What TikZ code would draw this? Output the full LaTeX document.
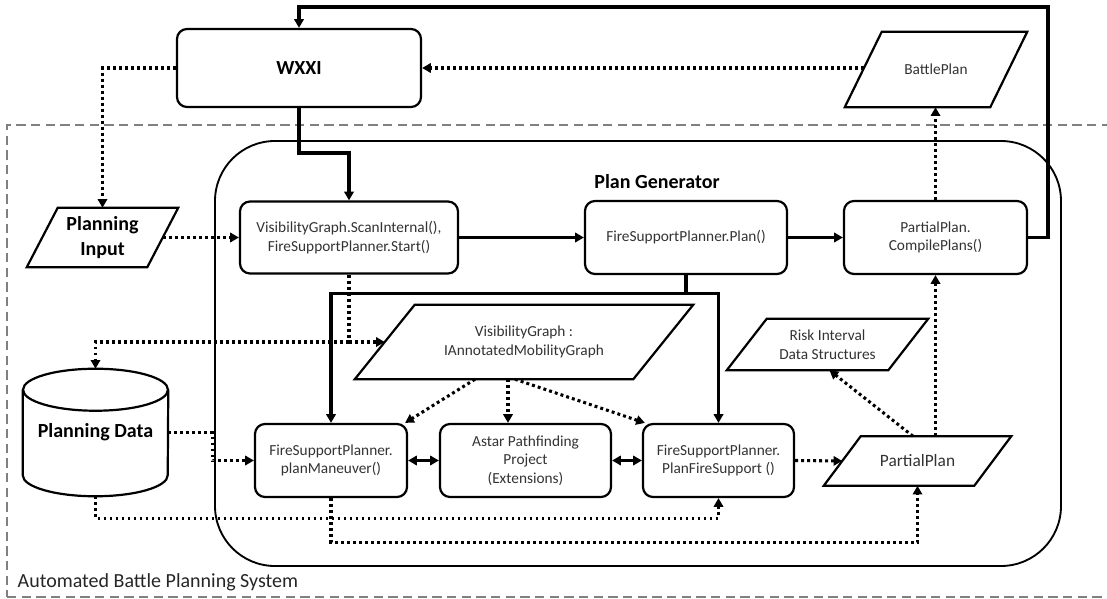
\documentclass[tikz,border=0pt]{standalone}
\usepackage{fontspec}
\setmainfont{Carlito}
\usetikzlibrary{arrows.meta,calc}
\begin{document}
\begin{tikzpicture}[x=0.75pt,y=-0.75pt,
  box/.style={draw, line width=1.65pt, rounded corners=7.5pt, fill=white, align=center,
    text=black!80, font=\fontsize{11.5}{14}\selectfont, inner sep=2pt},
  para/.style={align=center, text=black!80, font=\fontsize{11.5}{14}\selectfont, inner sep=0pt},
  strong/.style={font=\fontsize{15}{19}\selectfont\bfseries, text=black},
  solidline/.style={line width=2.3pt},
  solidarrow/.style={solidline, -{Triangle[length=6.5pt,width=7pt]}},
  duoarrow/.style={solidline, {Triangle[length=6.5pt,width=7pt]}-{Triangle[length=6.5pt,width=7pt]}},
  dotline/.style={line width=2.3pt, dash pattern=on 2.2pt off 2.3pt},
  dotarrow/.style={dotline, -{Triangle[length=6.5pt,width=7pt]}},
  outline/.style={line width=1.65pt}
]
\fill[white] (0,0) rectangle (1107,599);
\useasboundingbox (0,0) rectangle (1107,599);

% system boundary and plan generator container
\node[draw=black!50, line width=1.2pt, dash pattern=on 7pt off 4pt, minimum width=831pt, minimum height=354pt] (sys) at (561,361) {};
\node[anchor=west, font=\fontsize{15}{17}\selectfont, text=black!85] (syslabel) at (13,582) {Automated Battle Planning System};
\node[draw, line width=1.4pt, rounded corners=45pt, minimum width=634.5pt, minimum height=318.75pt] (gen) at (638,353.5) {};
\node[strong] (genlabel) at (657,182) {Plan Generator};

% rounded process boxes
\node[box, strong, minimum width=183pt, minimum height=58.5pt] (wxxi) at (299,68) {WXXI};
\node[box, minimum width=163.5pt, minimum height=54pt] (scan) at (349,237.5) {VisibilityGraph.ScanInternal(),\\FireSupportPlanner.Start()};
\node[box, minimum width=151.5pt, minimum height=54.75pt] (plan) at (686,237.5) {FireSupportPlanner.Plan()};
\node[box, minimum width=137.25pt, minimum height=54.75pt] (compile) at (935.5,237.5) {PartialPlan.\\CompilePlans()};
\node[box, minimum width=114pt, minimum height=54.75pt] (maneuver) at (331,460.5) {FireSupportPlanner.\\planManeuver()};
\node[box, minimum width=128.25pt, minimum height=54.75pt] (astar) at (525.5,460.5) {Astar Pathfinding\\Project\\(Extensions)};
\node[box, minimum width=113.25pt, minimum height=54.75pt] (pfs) at (718.5,460.5) {FireSupportPlanner.\\PlanFireSupport ()};

% data items (parallelograms)
\node[para, strong, minimum width=113.25pt, minimum height=44.25pt] (input) at (102.5,237.5) {Planning\\Input};
\node[para, minimum width=136.5pt, minimum height=56.25pt] (battle) at (936,69.5) {BattlePlan};
\node[para, minimum width=253.5pt, minimum height=55.5pt] (visg) at (524,342) {VisibilityGraph :\\IAnnotatedMobilityGraph};
\node[para, minimum width=150.75pt, minimum height=38.25pt] (risk) at (827.5,344.5) {Risk Interval\\Data Structures};
\node[para, font=\fontsize{13}{15}\selectfont, minimum width=140.25pt, minimum height=36.75pt] (partial) at (917.5,461) {PartialPlan};

\newcommand\parashape[2]{%
  \draw[outline] (#1.south west) -- ($(#1.north west)+(#2,0)$) -- (#1.north east)
    -- ($(#1.south east)-(#2,0)$) -- cycle;}
\parashape{input}{31}
\parashape{battle}{37}
\parashape{visg}{60}
\parashape{risk}{40}
\parashape{partial}{37}

% data store (cylinder)
\node[strong, minimum width=108.75pt, minimum height=95.25pt, inner sep=0pt] (pdata) at (95.5,432.5) {Planning Data};
\draw[outline] ($(pdata.north west)+(0,21)$) -- ($(pdata.south west)+(0,-21)$)
  arc[start angle=180, end angle=360, x radius=54.375pt, y radius=15.75pt]
  -- ($(pdata.north east)+(0,21)$);
\draw[outline] ($(pdata.north)+(0,21)$) ellipse[x radius=54.375pt, y radius=15.75pt];

% control flow (solid)
\coordinate (ctop) at (1048,7);
\draw[solidarrow] (compile.east) -| (ctop) -| (wxxi.north);
\coordinate (j1) at (0,153);
\draw[solidarrow] (wxxi.south) -- (wxxi.south |- j1) -| (scan.north);
\draw[solidarrow] (scan.east) -- (plan.west);
\draw[solidarrow] (plan.east) -- (compile.west);
\coordinate (j2) at ($(plan.south)+(0,18)$);
\draw[solidline] (plan.south) -- (j2);
\draw[solidarrow] (j2) -| (maneuver.north);
\draw[solidarrow] (j2) -| (pfs.north);
\draw[duoarrow] (maneuver.east) -- (astar.west);
\draw[duoarrow] (astar.east) -- (pfs.west);

% data flow (dotted)
\draw[dotarrow] (wxxi.west) -| (input.north);
\draw[dotarrow] ($(wxxi.east -| battle.west)+(19,0)$) -- (wxxi.east);
\draw[dotarrow] ($(input.east)+(-15.5,0)$) -- (scan.west);
\coordinate (j3) at (scan.south |- visg.west);
\draw[dotline] (scan.south) -- (j3);
\draw[dotarrow] (j3) -- ($(visg.west)+(30,0)$);
\draw[dotarrow] (j3) -| (pdata.north);
\draw[dotarrow] ($(visg.south)+(-49,0)$) -- ($(maneuver.north east)+(-3,0)$);
\coordinate (v2) at ($(visg.south)+(-16,0)$);
\draw[dotarrow] (v2) -- (v2 |- astar.north);
\draw[dotarrow] ($(visg.south)+(-9,0)$) -- ($(pfs.north west)+(3,0)$);
\draw[dotarrow] (pdata.east) -- ++(44,0) |- (maneuver.west);
\draw[dotarrow] (pdata.south) -- ++(0,22) -| (pfs.south);
\draw[dotarrow] (maneuver.south) -- ++(0,44) -| (partial.south);
\draw[dotarrow] (pfs.east) -- ($(partial.west)+(18.5,0)$);
\draw[dotarrow] (compile.south |- partial.north) -- (compile.south);
\draw[dotarrow] (compile.north) -- (compile.north |- battle.south);
\draw[dotarrow] ($(partial.north)+(-4.5,0)$) -- ($(risk.south)+(2,0)$);
\end{tikzpicture}
\end{document}
